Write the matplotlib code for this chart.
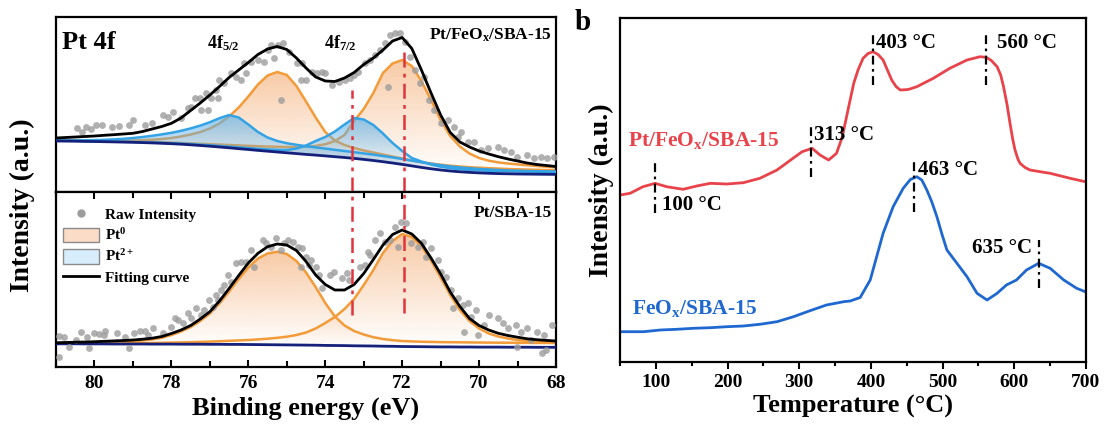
import numpy as np
import matplotlib
matplotlib.use("Agg")
import matplotlib.pyplot as plt
from matplotlib.colors import to_rgb
from matplotlib.lines import Line2D
from matplotlib.patches import Patch, Polygon
from matplotlib.ticker import MultipleLocator

plt.rcParams["font.family"] = ["Liberation Serif", "DejaVu Serif"]
plt.rcParams["font.weight"] = "bold"
plt.rcParams["axes.labelweight"] = "bold"
plt.rcParams["mathtext.fontset"] = "custom"
plt.rcParams["mathtext.rm"] = "Liberation Serif:bold"
plt.rcParams["mathtext.bf"] = "Liberation Serif:bold"
plt.rcParams["mathtext.it"] = "Liberation Serif:italic:bold"

# ---- XPS Pt 4f : common binding-energy grid (eV) ----
be = [81.0, 80.75, 80.5, 80.25, 80.0, 79.75, 79.5, 79.25, 79.0, 78.75, 78.5, 78.25,
      78.0, 77.75, 77.5, 77.25, 77.0, 76.75, 76.5, 76.25, 76.0, 75.75, 75.5, 75.25,
      75.0, 74.75, 74.5, 74.25, 74.0, 73.75, 73.5, 73.25, 73.0, 72.75, 72.5, 72.25,
      72.0, 71.75, 71.5, 71.25, 71.0, 70.75, 70.5, 70.25, 70.0, 69.75, 69.5, 69.25,
      69.0, 68.75, 68.5, 68.25, 68.0]
be_ticks = [80, 78, 76, 74, 72, 70, 68]

# Pt/FeOx/SBA-15 (upper panel), intensity in a.u.
top_fit = [54.0, 54.5, 55.0, 55.5, 56.0, 56.7, 57.3, 58.0, 58.7, 60.5, 63.0, 65.5,
           68.7, 74.0, 81.5, 89.0, 97.0, 105.5, 114.5, 122.0, 129.5, 137.5, 143.0, 145.5,
           142.5, 134.0, 124.0, 115.0, 111.0, 110.5, 114.0, 119.5, 127.5, 134.0, 142.0, 151.0,
           154.5, 143.5, 122.0, 99.0, 77.0, 59.5, 50.0, 45.0, 41.0, 38.0, 35.3, 33.0,
           31.0, 29.0, 27.5, 26.5, 25.5]
top_bg = [51.0, 50.9, 50.8, 50.6, 50.5, 50.3, 50.1, 49.9, 49.7, 49.4, 49.1, 48.7,
          48.3, 47.8, 47.2, 46.5, 45.8, 45.0, 44.2, 43.3, 42.5, 41.6, 40.8, 40.0,
          39.2, 38.4, 37.6, 36.9, 36.1, 35.3, 34.5, 33.6, 32.6, 31.5, 30.3, 29.0,
          27.6, 26.1, 24.6, 23.2, 22.0, 21.0, 20.2, 19.6, 19.1, 18.7, 18.4, 18.2,
          18.0, 17.9, 17.8, 17.7, 17.6]
top_pt0_52 = [51.5, 51.5, 51.5, 51.4, 51.3, 51.2, 51.2, 51.3, 51.5, 51.8, 52.3, 53.0,
              54.0, 55.5, 57.5, 60.0, 63.5, 68.5, 75.5, 84.5, 95.5, 107.5, 116.5, 120.0,
              117.0, 106.0, 90.5, 74.5, 60.0, 51.5, 47.0, 44.0, 41.5, 39.5, 37.5, 35.5,
              33.5, 31.5, 29.8, 28.5, 27.3, 26.3, 25.5, 24.8, 24.3, 23.8, 23.4, 23.0,
              22.7, 22.4, 22.2, 22.0, 21.8]
top_pt0_72 = [52.0, 51.9, 51.8, 51.6, 51.5, 51.3, 51.1, 50.9, 50.7, 50.4, 50.1, 49.8,
              49.4, 49.0, 48.6, 48.2, 47.8, 47.4, 47.0, 46.6, 46.2, 45.8, 45.5, 45.2,
              45.0, 45.0, 45.2, 46.0, 47.8, 51.0, 57.0, 71.0, 83.0, 99.0, 119.0, 128.5,
              132.0, 126.0, 111.0, 92.0, 72.0, 56.0, 45.5, 38.5, 34.0, 31.3, 29.6, 28.5,
              27.6, 26.8, 26.0, 25.3, 24.6]
top_pt2_52 = [51.5, 51.5, 51.6, 51.7, 51.9, 52.2, 52.6, 53.2, 54.0, 55.0, 56.2, 57.6,
              59.2, 61.2, 63.6, 66.4, 69.8, 73.8, 77.0, 74.5, 67.5, 60.0, 54.5, 51.0,
              48.8, 47.2, 45.8, 44.6, 43.4, 42.2, 41.0, 39.8, 38.6, 37.4, 36.0, 34.6,
              33.0, 31.4, 29.8, 28.2, 26.8, 25.6, 24.6, 23.8, 23.1, 22.5, 22.0, 21.6,
              21.3, 21.0, 20.8, 20.6, 20.4]
top_pt2_72 = [51.3, 51.2, 51.1, 50.9, 50.8, 50.6, 50.4, 50.2, 50.0, 49.8, 49.5, 49.2,
              48.8, 48.4, 47.9, 47.3, 46.7, 46.0, 45.3, 44.6, 43.9, 43.2, 42.6, 42.1,
              42.0, 43.5, 46.5, 51.0, 55.0, 60.5, 67.5, 74.0, 72.5, 67.0, 58.5, 49.0,
              41.0, 34.0, 30.5, 27.5, 25.3, 23.8, 22.8, 22.1, 21.6, 21.2, 20.9, 20.7,
              20.5, 20.4, 20.3, 20.2, 20.1]
top_raw_be = [80.45, 80.32, 80.23, 80.1, 79.97, 79.8, 79.54, 79.37, 79.11, 78.99, 78.68,
              78.51, 78.21, 78.08, 77.95, 77.74, 77.57, 77.48, 77.39, 77.26, 77.22, 77.09,
              77.05, 76.96, 76.83, 76.79, 76.75, 76.62, 76.45, 76.32, 76.19, 76.1, 76.06,
              75.93, 75.76, 75.59, 75.5, 75.41, 75.33, 75.24, 75.14, 75.11, 74.94, 74.73,
              74.64, 74.6, 74.51, 74.34, 74.21, 74.08, 74.0, 73.82, 73.65, 73.48, 73.35,
              73.26, 73.14, 72.96, 72.83, 72.7, 72.58, 72.45, 72.36, 72.32, 72.19, 72.06,
              71.93, 71.8, 71.67, 71.54, 71.42, 71.29, 71.16, 70.98, 70.81, 70.64, 70.55,
              70.47, 70.3, 70.12, 69.95, 69.78, 69.52, 69.35, 69.18, 69.01, 68.75, 68.58,
              68.4, 68.23, 68.06]
top_raw_int = [63.7, 60.3, 65.3, 62.7, 67.0, 67.0, 65.3, 66.0, 67.0, 72.0, 67.0,
               68.7, 77.0, 75.3, 80.3, 73.7, 83.7, 85.3, 93.7, 93.7, 82.0, 98.7,
               82.0, 93.7, 102.0, 93.7, 112.0, 108.7, 118.7, 115.3, 112.0, 128.7, 118.7,
               130.3, 132.0, 130.3, 142.0, 147.0, 133.7, 147.0, 92.0, 148.7, 140.3, 128.7,
               112.0, 128.7, 112.0, 120.3, 118.7, 120.3, 118.7, 107.0, 110.3, 112.0, 113.7,
               117.0, 120.3, 128.7, 132.0, 137.0, 142.0, 148.7, 105.0, 157.0, 158.7, 158.7,
               150.3, 135.3, 122.0, 108.7, 115.3, 92.0, 82.0, 68.7, 72.0, 65.3, 55.3,
               60.3, 50.3, 50.3, 42.0, 43.7, 45.3, 42.0, 40.3, 35.3, 37.0, 33.7,
               35.3, 33.7, 35.3]

# Pt/SBA-15 (lower panel)
bot_fit = [24.3, 24.5, 24.8, 25.0, 25.3, 25.7, 26.1, 26.5, 27.0, 27.8, 28.8, 30.5,
           33.5, 37.0, 41.5, 48.0, 55.3, 66.0, 78.5, 91.5, 104.0, 113.7, 120.3, 123.0,
           122.0, 116.5, 105.5, 92.0, 82.5, 77.0, 77.0, 82.5, 93.5, 107.5, 122.0, 132.5,
           137.0, 133.0, 123.7, 109.0, 93.0, 75.0, 60.5, 48.5, 41.5, 37.0, 33.7, 31.5,
           29.8, 28.2, 27.3, 26.6, 26.0]
bot_bg = [23.2, 23.2, 23.2, 23.1, 23.1, 23.1, 23.0, 23.0, 23.0, 23.0, 22.9, 22.9,
          22.9, 22.8, 22.8, 22.8, 22.7, 22.7, 22.6, 22.6, 22.5, 22.4, 22.3, 22.2,
          22.1, 22.0, 21.9, 21.8, 21.6, 21.5, 21.4, 21.2, 21.1, 21.0, 20.8, 20.7,
          20.5, 20.4, 20.3, 20.2, 20.1, 20.1, 20.0, 20.0, 19.9, 19.9, 19.9, 19.8,
          19.8, 19.8, 19.7, 19.7, 19.7]
bot_pt0_52 = [23.8, 23.9, 24.0, 24.2, 24.4, 24.7, 25.0, 25.4, 25.9, 26.6, 27.6, 29.2,
              32.0, 35.5, 40.0, 46.0, 53.5, 63.5, 75.5, 88.0, 99.5, 108.5, 113.5, 115.3,
              113.0, 106.0, 94.5, 80.0, 64.0, 50.5, 41.5, 36.0, 32.5, 29.8, 28.0, 26.8,
              26.0, 25.6, 25.3, 25.1, 24.9, 24.8, 24.7, 24.6, 24.5, 24.4, 24.3, 24.3,
              24.2, 24.2, 24.1, 24.1, 24.0]
bot_pt0_72 = [23.2, 23.2, 23.3, 23.3, 23.4, 23.5, 23.6, 23.7, 23.8, 23.9, 24.0, 24.2,
              24.4, 24.6, 24.8, 25.1, 25.4, 25.8, 26.2, 26.6, 27.0, 27.6, 28.3, 29.2,
              30.3, 32.0, 34.5, 38.5, 44.0, 50.0, 58.0, 68.0, 82.0, 97.0, 114.0, 126.0,
              133.0, 130.0, 121.0, 106.5, 89.5, 72.0, 57.0, 46.0, 38.5, 33.5, 30.5, 28.5,
              27.0, 26.0, 25.3, 24.8, 24.4]
bot_raw_be = [80.92, 80.92, 80.79, 80.66, 80.49, 80.36, 80.19, 80.15, 80.02, 79.89, 79.76,
              79.72, 79.41, 79.2, 79.11, 78.98, 78.81, 78.68, 78.6, 78.47, 78.21, 78.0,
              77.91, 77.82, 77.7, 77.57, 77.48, 77.35, 77.22, 77.14, 77.01, 76.92, 76.83,
              76.79, 76.7, 76.62, 76.53, 76.45, 76.32, 76.19, 76.06, 75.93, 75.84, 75.63,
              75.54, 75.41, 75.28, 75.15, 75.07, 74.98, 74.85, 74.72, 74.64, 74.6, 74.51,
              74.43, 74.38, 74.25, 74.17, 74.08, 73.87, 73.78, 73.57, 73.44, 73.39, 73.09,
              72.96, 72.88, 72.83, 72.7, 72.58, 72.45, 72.32, 72.19, 72.1, 72.02, 71.89,
              71.76, 71.59, 71.46, 71.37, 71.24, 71.07, 70.98, 70.85, 70.73, 70.68, 70.55,
              70.42, 70.38, 70.3, 70.21, 70.08, 70.04, 69.87, 69.74, 69.52, 69.39, 69.26,
              69.05, 69.01, 68.92, 68.75, 68.66, 68.49, 68.36, 68.32, 68.27, 68.1]
bot_raw_int = [31.0, 10.3, 30.3, 20.3, 27.0, 35.3, 30.3, 18.7, 34.3, 33.0, 32.0,
               36.0, 34.3, 30.3, 18.7, 33.7, 36.3, 36.3, 32.0, 38.7, 33.7, 40.3,
               48.7, 47.0, 43.7, 53.7, 48.7, 58.7, 52.0, 57.0, 67.0, 60.3, 72.0,
               67.0, 77.0, 82.0, 92.0, 85.3, 103.7, 105.3, 105.3, 117.0, 100.3, 127.0,
               123.7, 120.3, 128.7, 117.0, 123.7, 127.0, 125.3, 120.3, 100.3, 118.7, 110.3,
               102.0, 107.0, 100.3, 92.0, 78.7, 92.0, 95.3, 88.7, 93.7, 87.0, 100.3,
               102.0, 115.3, 112.0, 127.0, 133.7, 125.3, 127.0, 140.3, 120.3, 145.3, 144.3,
               123.7, 120.3, 125.3, 110.3, 118.7, 107.0, 95.3, 90.3, 77.0, 58.7, 68.7,
               62.0, 35.3, 63.7, 50.3, 57.0, 32.0, 42.0, 52.0, 48.7, 43.7, 38.7,
               42.0, 20.3, 35.3, 38.7, 27.0, 35.3, 13.7, 32.0, 17.0, 42.0]

# reference lines through both XPS panels (eV)
pt_lines = [73.3, 71.95]

# ---- H2-TPR ----
red_t = [50, 64, 82, 99, 115, 138, 157, 176, 199, 222, 245, 269, 288, 304, 318, 329,
         341, 352, 360, 366, 371, 376, 382, 389, 396, 403, 410, 417, 423, 429, 435, 441,
         452, 464, 487, 510, 534, 552, 561, 568, 576, 581, 585, 590, 594, 598, 601, 605,
         608, 615, 622, 636, 650, 678, 699]
red_sig = [167, 168.7, 175.3, 178.7, 175.3, 172.7, 176, 178.7, 178, 179.3, 183.7, 192,
           202, 210.3, 213.7, 207, 202, 208.7, 225, 245.3, 262, 278.7, 292, 303.7,
           308.5, 310.3, 307.5, 302, 292, 282, 275.5, 272, 272.5, 275.3, 283.7, 293.7,
           302, 305.3, 304.7, 301.5, 295.3, 287, 275.3, 257, 238.7, 222, 212, 203,
           198.7, 194.5, 192, 190.3, 188.7, 183.7, 180.3]
blue_t = [50, 83, 106, 129, 152, 176, 199, 222, 245, 269, 292, 315, 338, 362, 371, 385,
          399, 408, 417, 431, 445, 455, 464, 471, 478, 485, 492, 499, 506, 520, 534, 548,
          562, 576, 589, 603, 617, 634, 650, 669, 687, 699]
blue_sig = [30.3, 30.3, 32, 32.7, 33.7, 34.3, 35.3, 36, 37.7, 40.3, 45.3, 51.3, 57, 60.3,
            61, 64.5, 82, 105.3, 128.7, 155.3, 173.7, 182.5, 185.3, 182, 172, 160, 145.3,
            128, 112, 98.7, 85.3, 68.7, 62, 68.7, 77, 82, 92, 98.7, 93.7, 82, 73.7, 70.3]
t_ticks = [100, 200, 300, 400, 500, 600, 700]

mark_labels = ["100 °C", "313 °C", "403 °C", "560 °C", "463 °C", "635 °C"]
mark_t = [99, 317, 403, 561, 460, 634]
mark_lo = [149, 185, 277, 277, 150, 74]
mark_hi = [200, 239, 330, 330, 204, 122]
label_t = [108, 321, 407, 576, 465, 624]
label_sig = [157, 227, 319, 319, 192, 114]
label_ha = ["left", "left", "left", "left", "left", "right"]

ORANGE = "#f29b38"
BLUE_L = "#34a3e6"
NAVY = "#14207a"
DOT = "#9c9c9c"
RED = "#e8434a"
BLUE = "#1f68d0"
VLINE = "#e0333c"


def gradient_fill(ax, x, top, base, color, alpha_top, zorder):
    x = np.asarray(x, float)
    top = np.asarray(top, float)
    base = np.asarray(base, float)
    verts = np.vstack([np.column_stack([x, top]),
                       np.column_stack([x[::-1], base[::-1]])])
    clip = Polygon(verts, closed=True, facecolor="none", edgecolor="none")
    ax.add_patch(clip)
    rgba = np.zeros((256, 1, 4))
    rgba[..., :3] = to_rgb(color)
    rgba[:, 0, 3] = np.linspace(alpha_top, 0.0, 256)
    im = ax.imshow(rgba, aspect="auto", origin="upper", interpolation="bilinear",
                   extent=[x.min(), x.max(), base.min(), top.max()], zorder=zorder)
    im.set_clip_path(clip)


fig = plt.figure(figsize=(11.05, 4.28), dpi=100)
ax_top = fig.add_axes([0.0507, 0.5514, 0.4525, 0.4089])
ax_bot = fig.add_axes([0.0507, 0.1425, 0.4525, 0.4089])
ax_tpr = fig.add_axes([0.5611, 0.1542, 0.4217, 0.8037])

for ax in (ax_top, ax_bot, ax_tpr):
    for sp in ax.spines.values():
        sp.set_linewidth(1.6)

# upper XPS panel
for comp in (top_pt0_52, top_pt0_72):
    gradient_fill(ax_top, be, comp, top_bg, "#f29f5c", 0.55, 1)
    ax_top.plot(be, comp, color=ORANGE, lw=1.8, zorder=2)
for comp in (top_pt2_52, top_pt2_72):
    gradient_fill(ax_top, be, comp, top_bg, "#5fb2ea", 0.7, 3)
    ax_top.plot(be, comp, color=BLUE_L, lw=1.8, zorder=4)
ax_top.plot(be, top_bg, color=NAVY, lw=2.0, zorder=5)
ax_top.scatter(top_raw_be, top_raw_int, s=24, color=DOT, alpha=0.8, lw=0, zorder=6)
ax_top.plot(be, top_fit, color="black", lw=2.0, zorder=7)

# lower XPS panel
for comp in (bot_pt0_52, bot_pt0_72):
    gradient_fill(ax_bot, be, comp, bot_bg, "#f29f5c", 0.55, 1)
    ax_bot.plot(be, comp, color=ORANGE, lw=1.8, zorder=2)
ax_bot.plot(be, bot_bg, color=NAVY, lw=2.0, zorder=5)
ax_bot.scatter(bot_raw_be, bot_raw_int, s=24, color=DOT, alpha=0.8, lw=0, zorder=6)
ax_bot.plot(be, bot_fit, color="black", lw=2.0, zorder=7)

dashdot = (0, (6, 2.5, 1.5, 2.5))
ax_top.axvline(pt_lines[0], ymin=0, ymax=0.583, color=VLINE, lw=1.8, ls=dashdot, zorder=8)
ax_top.axvline(pt_lines[1], ymin=0, ymax=0.81, color=VLINE, lw=1.8, ls=dashdot, zorder=8)
ax_bot.axvline(pt_lines[0], ymin=0.297, ymax=1, color=VLINE, lw=1.8, ls=dashdot, zorder=8)
ax_bot.axvline(pt_lines[1], ymin=0.31, ymax=1, color=VLINE, lw=1.8, ls=dashdot, zorder=8)

for ax in (ax_top, ax_bot):
    ax.set_xlim(81, 68)
    ax.set_ylim(0, 175)
    ax.set_yticks([])

ax_top.tick_params(axis="x", which="both", bottom=False, top=False, labelbottom=False)
ax_bot.set_xticks(be_ticks, [str(v) for v in be_ticks], fontweight="bold")
ax_bot.xaxis.set_minor_locator(MultipleLocator(1))
ax_bot.tick_params(axis="x", which="both", direction="in", top=True, bottom=True,
                   width=1.5, labelsize=14, pad=6)
ax_bot.tick_params(axis="x", which="major", length=5)
ax_bot.tick_params(axis="x", which="minor", length=4)

ax_top.text(0.012, 0.857, "Pt 4f", transform=ax_top.transAxes, fontsize=19,
            ha="left", va="center")
ax_top.text(77.08, 149, r"4f$_{5/2}$", fontsize=13, ha="left", va="center")
ax_top.text(74.04, 149, r"4f$_{7/2}$", fontsize=13, ha="left", va="center")
ax_top.text(0.992, 0.897, r"Pt/FeO$_{\mathbf{x}}$/SBA-15", transform=ax_top.transAxes,
            fontsize=12.5, ha="right", va="center")
ax_bot.text(0.992, 0.88, "Pt/SBA-15", transform=ax_bot.transAxes,
            fontsize=12.5, ha="right", va="center")

handles = [Line2D([], [], ls="none", marker="o", color=DOT, markersize=5),
           Patch(facecolor="#fbdcc6", edgecolor="#8a8a8a"),
           Patch(facecolor="#d8edfb", edgecolor="#8a8a8a"),
           Line2D([], [], color="black", lw=2)]
labels = ["Raw Intensity", r"Pt$^{0}$", r"Pt$^{2+}$", "Fitting curve"]
ax_bot.legend(handles, labels, loc="upper left", bbox_to_anchor=(-0.005, 0.97),
              frameon=False, prop={"size": 11, "weight": "bold"}, handlelength=2.4,
              handleheight=1.1, handletextpad=0.4, labelspacing=0.35, borderaxespad=0.2)

ax_bot.set_xlabel("Binding energy (eV)", fontsize=19, fontweight="bold", labelpad=3)
fig.text(0.02, 0.521, "Intensity (a.u.)", rotation=90, fontsize=20, fontweight="bold",
         ha="center", va="center")

# TPR panel
ax_tpr.plot(red_t, red_sig, color=RED, lw=2.0)
ax_tpr.plot(blue_t, blue_sig, color=BLUE, lw=2.0)
for t, lo, hi in zip(mark_t, mark_lo, mark_hi):
    ax_tpr.plot([t, t], [lo, hi], color="black", lw=1.6, ls=(0, (4, 2, 1.2, 2)))
for lab, t, s, ha in zip(mark_labels, label_t, label_sig, label_ha):
    ax_tpr.text(t, s, lab, fontsize=15, fontweight="bold", ha=ha, va="center")
ax_tpr.text(61, 222, r"Pt/FeO$_{\mathbf{x}}$/SBA-15", color=RED, fontsize=15.5,
            fontweight="bold", ha="left", va="center")
ax_tpr.text(67, 54, r"FeO$_{\mathbf{x}}$/SBA-15", color=BLUE, fontsize=15.5,
            fontweight="bold", ha="left", va="center")

ax_tpr.set_xlim(50, 700)
ax_tpr.set_ylim(0, 344)
ax_tpr.set_yticks([])
ax_tpr.set_xticks(t_ticks, [str(v) for v in t_ticks], fontweight="bold")
ax_tpr.xaxis.set_minor_locator(MultipleLocator(50))
ax_tpr.tick_params(axis="x", which="both", direction="out", width=1.5, labelsize=14)
ax_tpr.tick_params(axis="x", which="major", length=5)
ax_tpr.tick_params(axis="x", which="minor", length=3)
ax_tpr.set_xlabel("Temperature (°C)", fontsize=19, fontweight="bold", labelpad=3)
ax_tpr.set_ylabel("Intensity (a.u.)", fontsize=20, fontweight="bold", labelpad=4)

fig.text(575 / 1105, 1 - 22 / 428, "b", fontsize=21, fontweight="bold",
         ha="left", va="center")

fig.savefig("out.png", dpi=100)
